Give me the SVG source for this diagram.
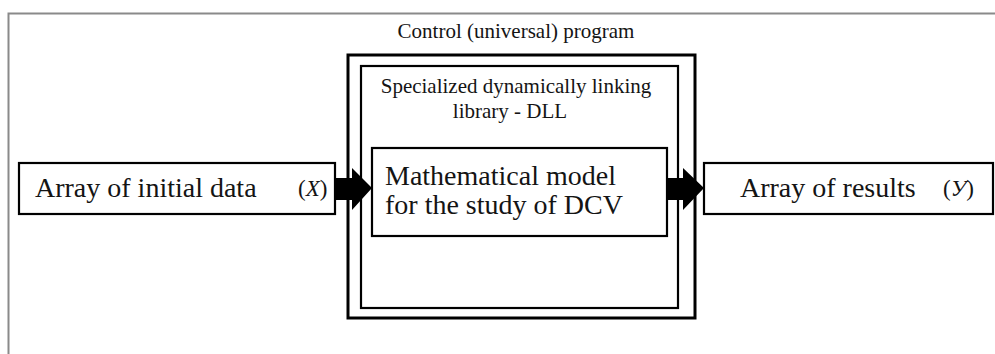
<svg xmlns="http://www.w3.org/2000/svg" width="995" height="354" viewBox="0 0 995 354">
<style>
.t{font-family:"Liberation Serif","Times New Roman",serif;fill:#141414}
.s{font-size:21px}
.box{fill:#fff;stroke:#000}
.arrow{fill:#000}
</style>
<rect x="0" y="0" width="995" height="354" fill="#fff"/>
<g id="frame">
<path d="M8.5,354 V13.5 H995" fill="none" stroke="#8a8a8a" stroke-width="2"/>
</g>
<g id="control">
<rect class="box" x="348" y="55" width="347" height="263" stroke-width="3"/>
<text class="t s" x="516" y="38" text-anchor="middle">Control (universal) program</text>
</g>
<g id="dll">
<rect class="box" x="361" y="66" width="317" height="242" stroke-width="2.2"/>
<text class="t s" x="516" y="93" text-anchor="middle">Specialized dynamically linking</text>
<text class="t s" x="510" y="118" text-anchor="middle">library - DLL</text>
</g>
<g id="model">
<rect class="box" x="372" y="148" width="295" height="88" stroke-width="2.2"/>
<text class="t" x="385" y="185" font-size="28">Mathematical model</text>
<text class="t" x="385" y="214" font-size="28">for the study of DCV</text>
</g>
<g id="input">
<rect class="box" x="19" y="163" width="316" height="51" stroke-width="2.2"/>
<text class="t" x="35" y="197" font-size="28">Array of initial data</text>
<text class="t" x="298" y="196" font-size="23">(<tspan font-style="italic">X</tspan>)</text>
</g>
<g id="output">
<rect class="box" x="704" y="163" width="289" height="51" stroke-width="2.2"/>
<text class="t" x="740" y="197" font-size="28">Array of results</text>
<text class="t" x="943" y="196" font-size="23">(<tspan font-style="italic">У</tspan>)</text>
</g>
<g id="connectors">
<polygon class="arrow" points="335,178 352,178 352,168 372,188 352,210 352,200 335,200"/>
<polygon class="arrow" points="667,178 683,178 683,168 704,188 683,210 683,200 667,200"/>
</g>
</svg>
